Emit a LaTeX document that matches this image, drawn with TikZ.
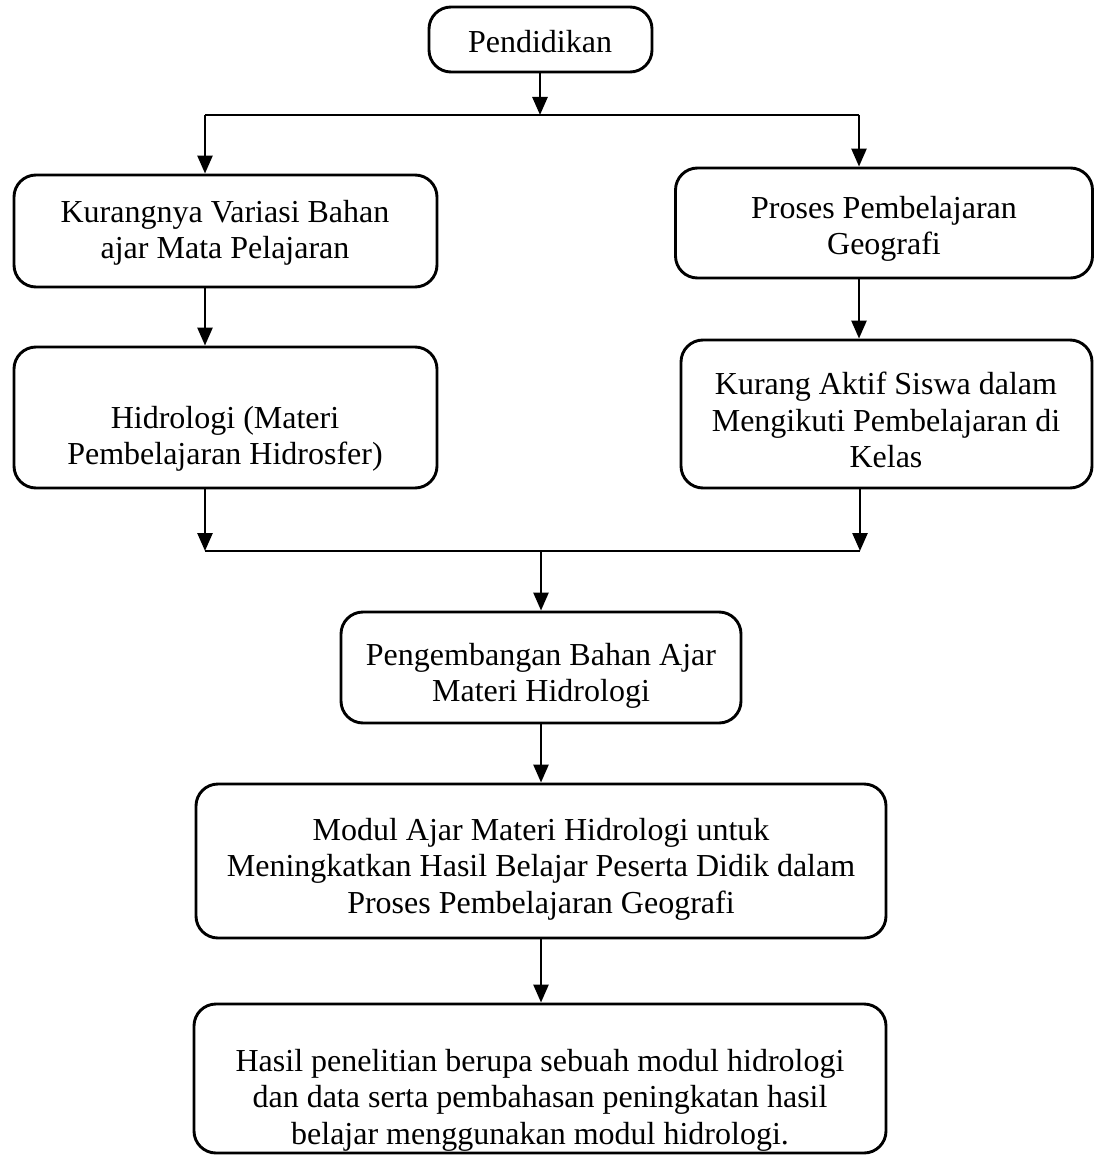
\documentclass[tikz,border=0pt]{standalone}
\usepackage{fontspec}
\setmainfont{Liberation Serif}
\usetikzlibrary{arrows.meta}
\begin{document}
\begin{tikzpicture}[x=1pt,y=-1pt,
  box/.style={draw, line width=2.9pt, rounded corners=22pt, inner sep=0pt},
  txt/.style={align=center, inner sep=0pt, font=\fontsize{32}{36.5}\selectfont},
  arr/.style={line width=2.6pt, -{Triangle[length=18pt,width=15pt]}},
  ln/.style={line width=2.9pt}]
\useasboundingbox (0,0) rectangle (1094,1155);
% boxes
\node[box, minimum width=223pt, minimum height=65pt] (A) at (540.5,39.5) {};
\node[box, minimum width=423pt, minimum height=112pt] (B) at (225.5,231) {};
\node[box, minimum width=417pt, minimum height=110pt] (C) at (884,223) {};
\node[box, minimum width=423pt, minimum height=141pt] (D) at (225.5,417.5) {};
\node[box, minimum width=411pt, minimum height=148pt] (E) at (886.5,414) {};
\node[box, minimum width=400pt, minimum height=111pt] (F) at (541,667.5) {};
\node[box, minimum width=690pt, minimum height=154pt] (G) at (541,861) {};
\node[box, minimum width=692pt, minimum height=149pt] (H) at (540,1078.5) {};
% texts
\node[txt] (At) at (540,42) {Pendidikan};
\node[txt] (Bt) at (225,233) {Kurangnya Variasi Bahan\\ajar Mata Pelajaran};
\node[txt] (Ct) at (884,229) {Proses Pembelajaran\\Geografi};
\node[txt] (Dt) at (225,439) {Hidrologi (Materi\\Pembelajaran Hidrosfer)};
\node[txt] (Et) at (886,420) {Kurang Aktif Siswa dalam\\Mengikuti Pembelajaran di\\Kelas};
\node[txt] (Ft) at (541,676) {Pengembangan Bahan Ajar\\Materi Hidrologi};
\node[txt] (Gt) at (541,869) {Modul Ajar Materi Hidrologi untuk\\Meningkatkan Hasil Belajar Peserta Didik dalam\\Proses Pembelajaran Geografi};
\node[txt] (Ht) at (540,1100) {Hasil penelitian berupa sebuah modul hidrologi\\dan data serta pembahasan peningkatan hasil\\belajar menggunakan modul hidrologi.};
% junction coordinates
\coordinate (tj) at (540,115);
\coordinate (tl) at (205,115);
\coordinate (tr) at (859,115);
\coordinate (bl) at (205,551);
\coordinate (br) at (860,551);
\coordinate (bj) at (541,551);
% connectors
\draw[arr] (A.south -| tj) -- (tj);
\draw[ln] (tl) -- (tr);
\draw[arr] (tl) -- (tl |- B.north);
\draw[arr] (tr) -- (tr |- C.north);
\draw[arr] (tl |- B.south) -- (tl |- D.north);
\draw[arr] (tr |- C.south) -- (tr |- E.north);
\draw[arr] (bl |- D.south) -- (bl);
\draw[arr] (br |- E.south) -- (br);
\draw[ln] (bl) -- (br);
\draw[arr] (bj) -- (bj |- F.north);
\draw[arr] (F.south -| bj) -- (bj |- G.north);
\draw[arr] (G.south -| bj) -- (bj |- H.north);
\end{tikzpicture}
\end{document}
